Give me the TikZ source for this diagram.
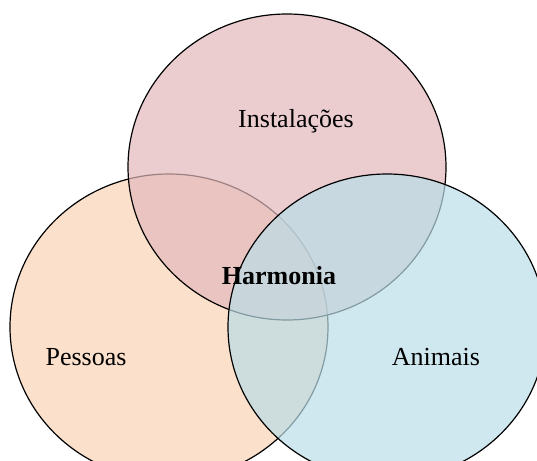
\documentclass[tikz,border=0pt]{standalone}
\usepackage{fontspec}
\setmainfont{Liberation Serif}
\definecolor{rosa}{RGB}{226,184,188}
\definecolor{pessego}{RGB}{249,211,181}
\definecolor{azul}{RGB}{186,221,231}
\begin{document}
\begin{tikzpicture}[x=0.5pt,y=0.5pt,
  conj/.style={draw=black,line width=0.6pt,fill opacity=0.7},
  rotulo/.style={anchor=base,inner sep=0pt,font=\fontsize{13}{15}\selectfont}]
\clip (0,0) rectangle (537,-461);
\useasboundingbox (0,0) rectangle (537,-461);
\coordinate (P) at (169,-327);
\coordinate (I) at (287,-167);
\coordinate (A) at (387,-327);
\draw[conj,fill=pessego] (P) ellipse (159 and 153);
\draw[conj,fill=rosa] (I) ellipse (159 and 153);
\draw[conj,fill=azul] (A) ellipse (159 and 153);
\node[rotulo] (inst) at (296,-127) {Instalações};
\node[rotulo] (pess) at (86,-365) {Pessoas};
\node[rotulo] (anim) at (436,-365) {Animais};
\node[rotulo,font=\fontsize{13}{15}\selectfont\bfseries] (harm) at (279,-284) {Harmonia};
\end{tikzpicture}
\end{document}
